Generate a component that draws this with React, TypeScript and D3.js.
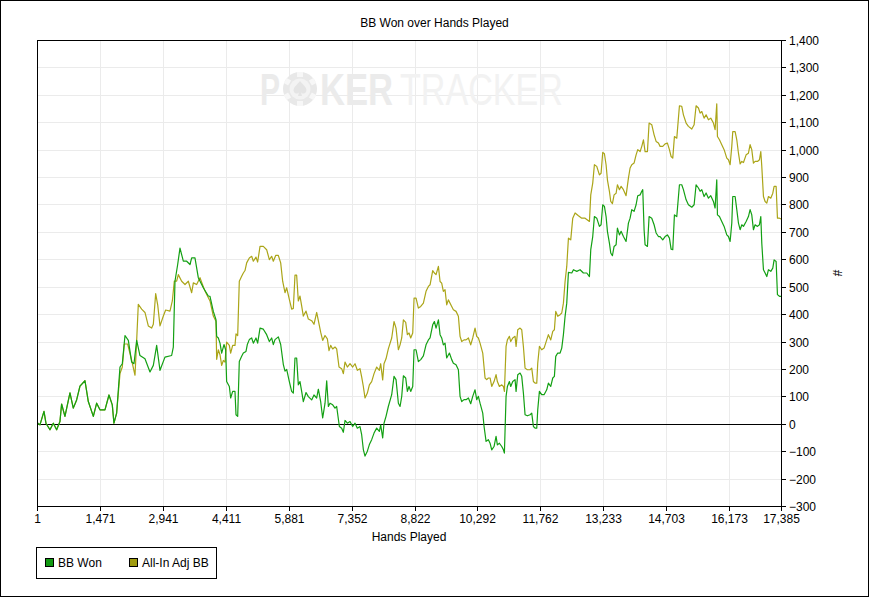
import React from 'react';
import * as d3 from 'd3';

const W = 869;
const H = 597;
const PLOT = { left: 37, right: 781, top: 40, bottom: 506 };

const chartTitle = 'BB Won over Hands Played';
const xAxisTitle = 'Hands Played';
const yAxisTitle = '#';
const seriesNames = ['BB Won', 'All-In Adj BB'];
const lineColors = ['#13a013', '#aba518'];
const swatchColors = ['#119911', '#a09c10'];

const xTickValues = [1, 1471, 2941, 4411, 5881, 7352, 8822, 10292, 11762, 13233, 14703, 16173, 17385];
const yTickValues = [-300, -200, -100, 0, 100, 200, 300, 400, 500, 600, 700, 800, 900, 1000, 1100, 1200, 1300, 1400];

// hands 1..1862: both series coincide
const sharedStart: [number, number][] = [
  [1, 5], [70, -4], [164, 45], [210, 2], [304, -22], [382, 2], [460, -22], [537, 8], [576, 72], [654, 27],
  [771, 113], [849, 57], [927, 87], [1005, 137], [1122, 157], [1200, 81], [1317, 27], [1395, 75], [1472, 51],
  [1589, 51], [1683, 105], [1760, 69], [1799, 2], [1862, 39],
];

const bbWonRest: [number, number][] = [
  [1940, 207], [1994, 219], [2057, 322], [2135, 304], [2213, 225], [2267, 219], [2330, 304], [2407, 249],
  [2524, 237], [2641, 189], [2719, 213], [2797, 286], [2875, 195], [2991, 243], [3147, 249], [3186, 280],
  [3225, 520], [3288, 581], [3342, 641], [3420, 593], [3498, 593], [3576, 581], [3615, 605], [3692, 605],
  [3770, 533], [3887, 496], [4004, 466], [4043, 465], [4121, 410], [4183, 380], [4199, 319], [4238, 313],
  [4277, 294], [4316, 258], [4370, 289], [4409, 270], [4432, 154], [4495, 136], [4526, 94], [4573, 118],
  [4627, 118], [4651, 33], [4690, 27], [4728, 227], [4783, 246], [4822, 258], [4884, 264], [4915, 289],
  [4962, 307], [5017, 313], [5056, 294], [5118, 313], [5157, 294], [5212, 349], [5289, 345], [5367, 325],
  [5430, 300], [5484, 313], [5523, 289], [5562, 307], [5640, 317], [5695, 289], [5757, 216], [5796, 192],
  [5835, 198], [5897, 154], [5951, 118], [5990, 112], [6029, 240], [6068, 240], [6107, 142], [6146, 154],
  [6185, 118], [6224, 81], [6287, 114], [6341, 99], [6419, 87], [6473, 105], [6536, 94], [6575, 126],
  [6629, 81], [6676, 21], [6731, 75], [6770, 157], [6809, 63], [6847, 75], [6910, 69], [6964, 57],
  [7003, 63], [7066, -10], [7120, -16], [7159, -31], [7198, 12], [7253, 2], [7315, 8], [7377, -10],
  [7432, 2], [7486, -16], [7548, -10], [7587, -40], [7626, -94], [7665, -118], [7720, -100], [7767, -76],
  [7821, -58], [7876, -34], [7938, -16], [8000, -28], [8032, -4], [8078, -52], [8109, 2], [8156, 27],
  [8210, 63], [8289, 106], [8343, 173], [8390, 161], [8445, 75], [8484, 63], [8523, 100], [8562, 175],
  [8616, 167], [8655, 118], [8694, 136], [8733, 118], [8780, 136], [8811, 270], [8858, 270], [8912, 227],
  [8967, 234], [9029, 248], [9091, 288], [9146, 306], [9185, 313], [9247, 361], [9286, 373], [9325, 349],
  [9380, 379], [9419, 325], [9457, 313], [9496, 288], [9535, 294], [9574, 240], [9637, 258], [9691, 234],
  [9730, 221], [9792, 215], [9847, 197], [9886, 100], [9925, 81], [9979, 88], [10026, 88], [10081, 94],
  [10135, 73], [10182, 100], [10236, 124], [10275, 88], [10314, 100], [10353, 75], [10416, 39], [10447, -10],
  [10494, -64], [10548, -58], [10587, -71], [10626, -95], [10680, -83], [10727, -46], [10758, -77], [10805, -71],
  [10860, -83], [10899, -95], [10922, -107], [10961, 100], [10992, 136], [11039, 154], [11070, 136], [11117, 154],
  [11171, 161], [11195, 118], [11234, 179], [11288, 185], [11327, 173], [11366, 112], [11405, 33], [11459, 29],
  [11522, 33], [11561, 39], [11600, -10], [11639, -16], [11678, -16], [11701, 51], [11740, 118], [11794, 106],
  [11849, 106], [11911, 124], [11950, 148], [12005, 136], [12052, 167], [12090, 173], [12122, 246], [12168, 258],
  [12223, 258], [12262, 276], [12301, 325], [12340, 392], [12379, 440], [12418, 552], [12496, 550], [12535, 562],
  [12613, 556], [12690, 562], [12768, 550], [12846, 550], [12909, 537], [12940, 635], [12986, 683], [13025, 756],
  [13080, 750], [13142, 720], [13181, 726], [13220, 799], [13259, 793], [13298, 756], [13329, 702], [13376, 659],
  [13407, 623], [13446, 613], [13485, 647], [13532, 653], [13563, 714], [13610, 689], [13649, 702], [13703, 683],
  [13765, 665], [13820, 732], [13859, 750], [13898, 781], [13952, 775], [13999, 799], [14038, 832], [14093, 835],
  [14132, 848], [14155, 854], [14186, 708], [14209, 653], [14264, 647], [14303, 756], [14365, 750], [14420, 726],
  [14467, 696], [14521, 683], [14560, 683], [14622, 671], [14677, 683], [14731, 689], [14778, 677], [14817, 637],
  [14856, 635], [14895, 762], [14950, 756], [15012, 872], [15066, 872], [15105, 854], [15168, 817], [15222, 799],
  [15300, 790], [15355, 799], [15401, 872], [15456, 860], [15495, 848], [15534, 854], [15588, 829], [15635, 842],
  [15690, 823], [15744, 832], [15806, 811], [15845, 787], [15884, 890], [15900, 762], [15947, 756], [16001, 738],
  [16056, 720], [16118, 689], [16157, 683], [16196, 665], [16235, 732], [16258, 829], [16313, 829], [16352, 781],
  [16391, 732], [16430, 708], [16469, 726], [16508, 720], [16570, 738], [16624, 756], [16663, 781], [16702, 762],
  [16741, 708], [16780, 726], [16835, 720], [16881, 726], [16913, 756], [16936, 659], [16975, 562], [17014, 550],
  [17053, 537], [17092, 562], [17146, 556], [17193, 568], [17224, 598], [17271, 592], [17302, 471], [17349, 465],
  [17385, 465],
];

const allInAdjRest: [number, number][] = [
  [1940, 183], [1994, 207], [2041, 291], [2119, 291], [2213, 231], [2291, 177], [2330, 304], [2368, 436],
  [2446, 418], [2524, 406], [2602, 357], [2680, 349], [2719, 363], [2774, 475], [2821, 434], [2875, 357],
  [2953, 393], [3007, 415], [3108, 411], [3163, 448], [3209, 520], [3264, 520], [3303, 544], [3381, 520],
  [3459, 508], [3537, 520], [3615, 478], [3654, 514], [3731, 508], [3809, 533], [3926, 484], [4043, 448],
  [4121, 393], [4183, 374], [4199, 235], [4238, 270], [4277, 252], [4316, 213], [4355, 231], [4394, 225],
  [4432, 298], [4495, 286], [4526, 258], [4573, 286], [4627, 286], [4651, 328], [4690, 322], [4728, 520],
  [4783, 538], [4822, 550], [4861, 559], [4900, 587], [4962, 605], [5017, 611], [5056, 593], [5118, 608],
  [5157, 590], [5212, 647], [5289, 647], [5367, 635], [5430, 599], [5484, 611], [5523, 593], [5578, 614],
  [5640, 614], [5695, 587], [5741, 520], [5796, 478], [5835, 496], [5897, 454], [5951, 418], [5990, 421],
  [6029, 542], [6068, 542], [6107, 448], [6146, 466], [6185, 430], [6224, 393], [6287, 411], [6341, 382],
  [6419, 376], [6473, 363], [6536, 406], [6575, 376], [6629, 334], [6676, 304], [6731, 322], [6785, 310],
  [6824, 267], [6863, 286], [6910, 273], [6964, 280], [7003, 273], [7058, 207], [7120, 201], [7159, 183],
  [7198, 225], [7253, 207], [7315, 219], [7377, 207], [7432, 219], [7486, 195], [7548, 201], [7587, 171],
  [7626, 136], [7665, 94], [7720, 112], [7767, 142], [7821, 154], [7876, 183], [7938, 207], [8000, 195],
  [8032, 219], [8078, 160], [8109, 219], [8156, 237], [8210, 273], [8289, 313], [8343, 373], [8390, 349],
  [8445, 270], [8484, 288], [8523, 313], [8562, 379], [8616, 370], [8655, 325], [8694, 331], [8733, 313],
  [8780, 331], [8811, 458], [8858, 458], [8912, 422], [8967, 428], [9029, 440], [9091, 483], [9146, 501],
  [9185, 507], [9247, 559], [9286, 550], [9325, 544], [9380, 574], [9419, 519], [9457, 513], [9496, 483],
  [9535, 489], [9574, 434], [9613, 452], [9691, 428], [9730, 416], [9792, 410], [9847, 392], [9886, 319],
  [9925, 300], [9979, 306], [10026, 306], [10081, 313], [10135, 288], [10182, 313], [10236, 349], [10275, 319],
  [10314, 313], [10353, 294], [10416, 258], [10470, 167], [10509, 161], [10548, 167], [10587, 167], [10626, 136],
  [10680, 154], [10727, 179], [10758, 154], [10805, 136], [10860, 142], [10899, 136], [10922, 118], [10961, 282],
  [10992, 306], [11039, 319], [11070, 300], [11117, 313], [11171, 319], [11195, 282], [11234, 343], [11288, 349],
  [11327, 343], [11366, 282], [11405, 203], [11459, 197], [11522, 197], [11561, 203], [11600, 154], [11639, 148],
  [11678, 148], [11701, 221], [11740, 282], [11794, 270], [11849, 276], [11911, 306], [11950, 325], [12005, 306],
  [12052, 337], [12090, 343], [12122, 410], [12168, 392], [12223, 398], [12262, 404], [12301, 440], [12340, 519],
  [12379, 574], [12418, 677], [12472, 671], [12519, 750], [12574, 769], [12652, 759], [12729, 750], [12807, 750],
  [12909, 738], [12940, 835], [12986, 878], [13025, 945], [13080, 939], [13142, 908], [13181, 914], [13220, 990],
  [13259, 985], [13298, 945], [13329, 890], [13376, 848], [13407, 811], [13446, 803], [13485, 835], [13532, 841],
  [13563, 872], [13610, 854], [13649, 866], [13703, 854], [13765, 832], [13820, 896], [13859, 933], [13898, 945],
  [13952, 951], [13999, 981], [14038, 1000], [14093, 993], [14132, 1012], [14171, 1036], [14209, 993], [14264, 993],
  [14303, 1097], [14365, 1091], [14420, 1054], [14467, 1030], [14521, 1024], [14560, 1012], [14622, 1012], [14677, 1021],
  [14731, 1024], [14778, 1000], [14817, 975], [14856, 969], [14895, 1048], [14950, 1042], [15012, 1160], [15066, 1158],
  [15105, 1127], [15168, 1097], [15222, 1085], [15300, 1075], [15355, 1091], [15401, 1160], [15456, 1152], [15495, 1133],
  [15534, 1139], [15588, 1115], [15635, 1127], [15690, 1109], [15744, 1115], [15806, 1097], [15845, 1073], [15884, 1167],
  [15900, 1048], [15947, 1036], [16001, 1018], [16056, 1000], [16118, 969], [16157, 963], [16196, 945], [16235, 1012],
  [16258, 1066], [16313, 1066], [16352, 1036], [16391, 987], [16430, 948], [16469, 957], [16508, 953], [16570, 981],
  [16624, 987], [16663, 1018], [16702, 1000], [16741, 951], [16780, 957], [16835, 957], [16881, 963], [16913, 993],
  [16936, 939], [16975, 829], [17014, 811], [17053, 805], [17092, 829], [17146, 823], [17193, 841], [17224, 866],
  [17271, 866], [17302, 750], [17349, 750], [17385, 747],
];

const bbWonSeries = [...sharedStart, ...bbWonRest];
const allInAdjSeries = [...sharedStart, ...allInAdjRest];

const FONT = 'Arial, "Liberation Sans", sans-serif';

export default function App() {
  const x = d3.scaleLinear().domain([1, 17385]).range([PLOT.left, PLOT.right]);
  const y = d3.scaleLinear().domain([-300, 1400]).range([PLOT.bottom, PLOT.top]);
  const line = d3
    .line<[number, number]>()
    .x((d) => x(d[0]))
    .y((d) => y(d[1]));
  const fmt = d3.format(',');
  const cx = 300;
  const cy = 89;
  const notches = [0, 60, 120, 180, 240, 300];
  return (
    <svg
      width={W}
      height={H}
      viewBox={`0 0 ${W} ${H}`}
      style={{ position: 'absolute', left: 0, top: 0, background: '#fff' }}
      fontFamily={FONT}
    >
      <rect x={0} y={0} width={W} height={H} fill="#fff" />
      <rect x={0.5} y={0.5} width={W - 1} height={H - 1} fill="none" stroke="#000" />
      <text x={W / 2} y={27} textAnchor="middle" fontSize={12} fill="#000">
        {chartTitle}
      </text>

      {/* grid */}
      {yTickValues.map((t) => (
        <line key={'gy' + t} x1={PLOT.left} x2={PLOT.right} y1={Math.round(y(t)) + 0.5} y2={Math.round(y(t)) + 0.5} stroke="#ebebeb" />
      ))}
      {xTickValues.slice(1, -1).map((t) => (
        <line key={'gx' + t} x1={Math.round(x(t)) + 0.5} x2={Math.round(x(t)) + 0.5} y1={PLOT.top} y2={PLOT.bottom} stroke="#ebebeb" />
      ))}

      {/* watermark */}
      <g>
        <circle cx={cx} cy={cy} r={17} fill="#e8e8e8" />
        {notches.map((a) => (
          <rect key={a} x={cx - 3} y={cy - 17} width={6} height={5} fill="#f7f7f7" transform={`rotate(${a} ${cx} ${cy})`} />
        ))}
        <circle cx={cx} cy={cy} r={10.5} fill="#f3f3f3" />
        <path
          d={`M${cx},${cy - 8} C${cx + 3},${cy - 4} ${cx + 8},${cy - 1} ${cx + 6},${cy + 3} C${cx + 4},${cy + 6} ${cx + 1},${cy + 4} ${cx + 1},${cy + 3} L${cx + 2},${cy + 7} L${cx - 2},${cy + 7} L${cx - 1},${cy + 3} C${cx - 1},${cy + 4} ${cx - 4},${cy + 6} ${cx - 6},${cy + 3} C${cx - 8},${cy - 1} ${cx - 3},${cy - 4} ${cx},${cy - 8} Z`}
          fill="#e4e4e4"
        />
        <text transform="translate(260,105) scale(1,1.49)" fontSize={30} fontWeight="bold" fill="#ebebeb">P</text>
        <text transform="translate(320,105) scale(1,1.29)" fontSize={34.6} fontWeight="bold" fill="#ebebeb">KER</text>
        <text transform="translate(400,105) scale(1,1.31)" fontSize={34.1} fill="#f2f2f2">TRACKER</text>
      </g>

      {/* zero line */}
      <line x1={PLOT.left} x2={PLOT.right} y1={Math.round(y(0)) + 0.5} y2={Math.round(y(0)) + 0.5} stroke="#000" />

      <defs>
        <clipPath id="plotClip">
          <rect x={PLOT.left} y={PLOT.top} width={PLOT.right - PLOT.left} height={PLOT.bottom - PLOT.top} />
        </clipPath>
      </defs>
      <g clipPath="url(#plotClip)">
        <path d={line(allInAdjSeries) || ''} fill="none" stroke={lineColors[1]} strokeWidth={1.2} strokeLinejoin="round" />
        <path d={line(bbWonSeries) || ''} fill="none" stroke={lineColors[0]} strokeWidth={1.2} strokeLinejoin="round" />
      </g>

      {/* plot frame */}
      <rect x={PLOT.left + 0.5} y={PLOT.top + 0.5} width={PLOT.right - PLOT.left} height={PLOT.bottom - PLOT.top} fill="none" stroke="#000" />

      {/* x axis ticks */}
      {xTickValues.map((t) => {
        const px = Math.round(x(t)) + 0.5;
        return (
          <g key={'xt' + t}>
            <line x1={px} x2={px} y1={PLOT.bottom} y2={PLOT.bottom + 5} stroke="#000" />
            <text x={px} y={523} textAnchor="middle" fontSize={12} fill="#000">
              {fmt(t)}
            </text>
          </g>
        );
      })}
      <text x={(PLOT.left + PLOT.right) / 2} y={541} textAnchor="middle" fontSize={12} fill="#000">
        {xAxisTitle}
      </text>

      {/* y axis ticks (right) */}
      {yTickValues.map((t) => {
        const py = Math.round(y(t)) + 0.5;
        return (
          <g key={'yt' + t}>
            <line x1={PLOT.right} x2={PLOT.right + 5} y1={py} y2={py} stroke="#000" />
            <text x={789} y={py + 4} fontSize={12} fill="#000">
              {fmt(t)}
            </text>
          </g>
        );
      })}
      <text x={833} y={273} fontSize={12} fill="#000" textAnchor="middle" transform="rotate(90 833 273)">
        {yAxisTitle}
      </text>

      {/* legend */}
      <rect x={36.5} y={547.5} width={180} height={31} fill="#fff" stroke="#000" />
      {seriesNames.map((name, i) => {
        const lx = i === 0 ? 45 : 129;
        return (
          <g key={name}>
            <rect x={lx + 0.5} y={558.5} width={8} height={8} fill={swatchColors[i]} stroke="#000" />
            <text x={lx + 13} y={567} fontSize={12} fill="#000">
              {name}
            </text>
          </g>
        );
      })}
    </svg>
  );
}
